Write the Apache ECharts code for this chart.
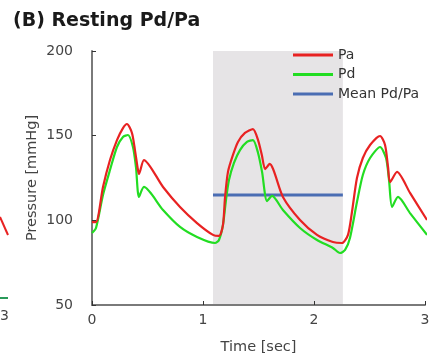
<!DOCTYPE html>
<html>
<head>
<meta charset="utf-8">
<script src="https://cdn.jsdelivr.net/npm/echarts@6/dist/echarts.min.js"></script>
<style>html,body{margin:0;padding:0;background:#fff;}#c{width:434px;height:357px;}</style>
</head>
<body>
<div id="c"></div>
<script>
// Time [sec] and pressure [mmHg] readings
const paTime = [0,0.036,0.099,0.162,0.225,0.279,0.315,0.36,0.387,0.414,0.423,0.468,0.64,0.793,0.946,1.09,1.144,1.18,1.198,1.225,1.27,1.315,1.378,1.45,1.496,1.53,1.56,1.6,1.72,1.874,2.027,2.17,2.252,2.306,2.342,2.387,2.44,2.505,2.595,2.64,2.667,2.685,2.748,2.865,3.018];
const paValues = [99,99,119.7,135.6,147.4,154.5,156.9,151.6,141.5,129.7,127.4,135.6,119.7,107.9,98.4,91.4,90.8,97.3,113.2,128.6,138.6,146.3,151.6,153.9,147.4,138.6,130.3,133.3,113.8,100.2,91.4,87.2,86.6,91.4,104.9,125.0,136.8,144.5,149.8,144.5,131.5,122.6,128.6,116.2,100.2];
const pdTime = [0,0.036,0.099,0.162,0.225,0.279,0.324,0.369,0.396,0.423,0.468,0.64,0.793,0.946,1.108,1.144,1.18,1.207,1.234,1.279,1.333,1.396,1.45,1.496,1.532,1.577,1.622,1.72,1.874,2.027,2.17,2.234,2.28,2.324,2.387,2.44,2.505,2.595,2.649,2.676,2.703,2.757,2.865,3.018];
const pdValues = [92.5,95.5,115.0,129.7,143.3,149.2,150.4,143.3,131.5,113.8,119.7,106.1,96.1,90.2,86.6,88.4,97.3,112.0,123.8,133.9,141.5,146.3,147.4,139.8,128.6,111.4,114.4,106.1,95.5,88.4,83.7,80.7,82.5,89.6,110.8,126.8,136.8,143.3,136.8,123.8,107.9,113.8,104.3,91.4];
const meanTime = [1.09, 2.26];
const meanValue = 115;
const shadeRange = [1.09, 2.26];
const shadeTop = 203.5;
const xTicks = [0, 1, 2, 3];
const yTicks = [50, 100, 150, 200];

const pair = (t, v) => t.map((x, i) => [x, v[i]]);
const FONT = 'DejaVu Sans';
const lineIcon = 'path://M0,0L40,0L40,3L0,3Z';

const chart = echarts.init(document.getElementById('c'));
chart.setOption({
  animation: false,
  backgroundColor: '#fff',
  title: {
    text: '(B) Resting Pd/Pa',
    left: 8, top: 7,
    textStyle: { fontFamily: FONT, fontSize: 19, fontWeight: 'bold', color: '#1a1a1a' }
  },
  legend: {
    orient: 'vertical',
    left: 288, top: 43,
    itemWidth: 40, itemHeight: 14, itemGap: 5.5,
    icon: lineIcon,
    textStyle: { fontFamily: FONT, fontSize: 14, color: '#333' },
    data: ['Pa', 'Pd', 'Mean Pd/Pa']
  },
  grid: { left: 92, right: 9, top: 51, bottom: 52, outerBoundsMode: 'none', containLabel: false },
  xAxis: {
    type: 'value', min: xTicks[0], max: xTicks[xTicks.length - 1], interval: 1,
    name: 'Time [sec]', nameLocation: 'middle', nameGap: 35,
    nameTextStyle: { fontFamily: FONT, fontSize: 14.5, color: '#444' },
    axisLine: { lineStyle: { color: '#7a7a7a', width: 2 } },
    axisTick: { inside: true, length: 4, lineStyle: { color: '#333' } },
    axisLabel: { margin: 8, fontFamily: FONT, fontSize: 14, color: '#444' },
    splitLine: { show: false }
  },
  yAxis: {
    type: 'value', min: yTicks[0], max: yTicks[yTicks.length - 1], interval: 50,
    name: 'Pressure [mmHg]', nameLocation: 'middle', nameGap: 52, nameMoveOverlap: false,
    nameTextStyle: { fontFamily: FONT, fontSize: 14.5, color: '#444' },
    axisLine: { show: true, lineStyle: { color: '#7a7a7a', width: 2 } },
    axisTick: { show: true, inside: true, length: 4, lineStyle: { color: '#333' } },
    axisLabel: { margin: 19, fontFamily: FONT, fontSize: 14, color: '#444' },
    splitLine: { show: false }
  },
  series: [
    {
      name: 'Mean Pd/Pa', type: 'line', symbol: 'none', z: 2, clip: false,
      data: pair(meanTime, [meanValue, meanValue]),
      lineStyle: { color: '#4a6db3', width: 3 },
      itemStyle: { color: '#4a6db3' },
      markArea: {
        silent: true,
        z: 0,
        itemStyle: { color: '#e6e4e6' },
        data: [[{ xAxis: shadeRange[0], yAxis: yTicks[0] }, { xAxis: shadeRange[1], yAxis: shadeTop }]]
      }
    },
    {
      name: 'Pd', type: 'line', symbol: 'none', smooth: 0.25, clip: false, z: 3,
      data: pair(pdTime, pdValues),
      lineStyle: { color: '#22dd22', width: 2.2 },
      itemStyle: { color: '#22dd22' }
    },
    {
      name: 'Pa', type: 'line', symbol: 'none', smooth: 0.25, clip: false, z: 4,
      data: pair(paTime, paValues),
      lineStyle: { color: '#e82222', width: 2.2 },
      itemStyle: { color: '#e82222' }
    }
  ],
  graphic: [
    { type: 'text', left: 0, top: 309, style: { text: '3', fontFamily: FONT, fontSize: 14, fill: '#444' } },
    { type: 'line', shape: { x1: 0, y1: 217, x2: 8, y2: 235 }, style: { stroke: '#e82222', lineWidth: 2 } },
    { type: 'line', shape: { x1: 0, y1: 298, x2: 8, y2: 298 }, style: { stroke: '#2a9a5a', lineWidth: 2 } }
  ]
});
</script>
</body>
</html>
